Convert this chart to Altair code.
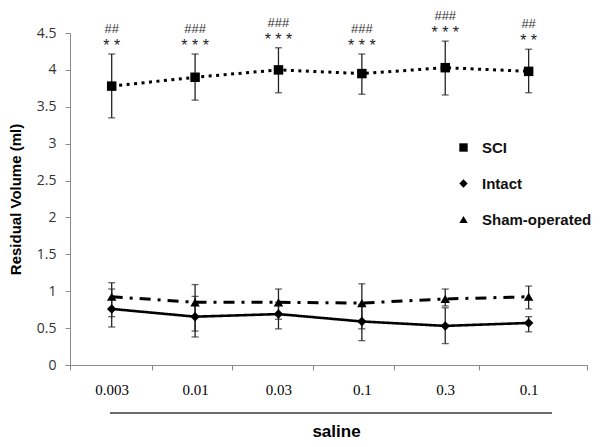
import altair as alt
import pandas as pd

# ---- data ----
dose_labels = ["0.003", "0.01", "0.03", "0.1", "0.3", "0.1"]
positions = [0, 1, 2, 3, 4, 5]

sci_mean = [3.78, 3.90, 4.00, 3.95, 4.03, 3.98]
sci_lo = [3.35, 3.59, 3.69, 3.67, 3.66, 3.69]
sci_hi = [4.215, 4.215, 4.30, 4.215, 4.39, 4.28]

intact_mean = [0.76, 0.655, 0.69, 0.59, 0.53, 0.57]
intact_lo = [0.515, 0.38, 0.49, 0.33, 0.29, 0.45]
intact_hi = [1.03, 0.93, 0.85, 0.82, 0.775, 0.655]

sham_mean = [0.925, 0.85, 0.85, 0.84, 0.895, 0.925]
sham_lo = [0.655, 0.46, 0.62, 0.49, 0.80, 0.76]
sham_hi = [1.115, 1.09, 1.03, 1.10, 1.03, 1.07]

stars = ["* *", "* * *", "* * *", "* * *", "* * *", "* *"]
hashes = ["##", "###", "###", "###", "###", "##"]

series_names = ["SCI", "Intact", "Sham-operated"]
x_tick_values = [-0.5, 0.48, 1.44, 2.42, 3.38, 4.41, 5.7]
y_tick_values = [0, 0.5, 1, 1.5, 2, 2.5, 3, 3.5, 4, 4.5]

rows = []
for name, m, lo, hi in [
    ("SCI", sci_mean, sci_lo, sci_hi),
    ("Intact", intact_mean, intact_lo, intact_hi),
    ("Sham-operated", sham_mean, sham_lo, sham_hi),
]:
    for p, a, b, c in zip(positions, m, lo, hi):
        rows.append({"series": name, "pos": p, "mean": a, "lo": b, "hi": c})
df = pd.DataFrame(rows)

ann = pd.DataFrame({"pos": positions, "hi": sci_hi, "stars": stars, "hashes": hashes})

W, H = 517, 332

label_arr = "[" + ",".join("'%s'" % s for s in dose_labels) + "]"

x_scale = alt.Scale(domain=[-0.5, 5.7], nice=False, zero=False)
y_scale = alt.Scale(domain=[0, 4.5], nice=False)

x_axis = alt.Axis(
    values=x_tick_values + positions,
    labelExpr=f"(datum.value % 1 == 0) ? {label_arr}[datum.value] : ''",
    tickOpacity=alt.ConditionalAxisNumber(
        condition={"test": "datum.value % 1 == 0", "value": 0}, value=1
    ),
    labelOverlap=False,
    labelFlush=False,
    grid=False,
    domainColor="#8a8a8a",
    tickColor="#8a8a8a",
    tickSize=5,
    labelFont="Liberation Serif",
    labelFontSize=15,
    labelColor="#000000",
    labelPadding=12,
    title="saline",
    titleFont="Liberation Sans",
    titleFontSize=17,
    titleFontWeight="bold",
    titleColor="#000000",
    titlePadding=26,
    titleX=266,
)
y_axis = alt.Axis(
    values=y_tick_values,
    labelExpr="format(datum.value, '.1~f')",
    labelOverlap=False,
    labelFlush=False,
    grid=False,
    domainColor="#8a8a8a",
    tickColor="#8a8a8a",
    tickSize=5,
    labelFont="Open Sans",
    labelFontSize=14,
    labelColor="#333333",
    labelPadding=9,
    title="Residual Volume (ml)",
    titleFont="Liberation Sans",
    titleFontSize=15,
    titleFontWeight="bold",
    titleColor="#000000",
    titlePadding=13,
)

base = alt.Chart(df)
X = alt.X("pos:Q", scale=x_scale, axis=x_axis)


def Yf(field):
    return alt.Y(field, type="quantitative", scale=y_scale, axis=y_axis)


def line_layer(name, dash, width):
    return base.transform_filter(alt.datum.series == name).mark_line(
        color="black", strokeWidth=width, strokeDash=dash
    ).encode(x=X, y=Yf("mean"))


lines = [
    line_layer("SCI", [3, 4.5], 3),
    line_layer("Intact", [1, 0], 2.6),
    line_layer("Sham-operated", [11, 7, 3, 7], 3),
]

err = base.mark_rule(color="#222222", strokeWidth=1.3).encode(
    x=X, y=Yf("lo"), y2="hi:Q"
)
cap_lo = base.mark_tick(color="#222222", orient="horizontal", size=7, thickness=1.3).encode(
    x=X, y=Yf("lo")
)
cap_hi = base.mark_tick(color="#222222", orient="horizontal", size=7, thickness=1.3).encode(
    x=X, y=Yf("hi")
)

points = base.mark_point(filled=True, color="black", opacity=1, size=90).encode(
    x=X,
    y=Yf("mean"),
    shape=alt.Shape(
        "series:N",
        scale=alt.Scale(domain=series_names, range=["square", "diamond", "triangle-up"]),
        legend=alt.Legend(
            orient="none",
            legendX=386,
            legendY=107,
            title=None,
            padding=0,
            symbolSize=70,
            symbolFillColor="black",
            symbolStrokeColor="black",
            labelFont="Liberation Sans",
            labelFontSize=15,
            labelFontWeight="bold",
            labelColor="#111111",
            labelOffset=11,
            labelLimit=200,
            rowPadding=20,
        ),
    ),
)

star_text = alt.Chart(ann).mark_text(
    font="Liberation Sans", fontSize=16, dy=-3, baseline="alphabetic", color="#222222"
).encode(x=X, y=Yf("hi"), text="stars:N")

hash_text = alt.Chart(ann).mark_text(
    font="Liberation Sans", fontSize=13, dy=-21, baseline="alphabetic", color="#333333"
).encode(x=X, y=Yf("hi"), text="hashes:N")

under_line = alt.Chart(pd.DataFrame({"k": [0]})).mark_rule(
    color="#6a6a6a", strokeWidth=2, clip=False
).encode(x=alt.value(40), x2=alt.value(482), y=alt.value(H + 48))

chart = alt.layer(
    *lines, err, cap_lo, cap_hi, points, star_text, hash_text, under_line
).properties(
    width=W,
    height=H,
    background="white",
    autosize=alt.AutoSizeParams(type="none"),
    padding={"left": 62, "top": 25, "right": 5, "bottom": 74},
).configure_view(strokeWidth=0, stroke=None)

chart.save("out.html", embed_options={"renderer": "svg", "actions": False})
